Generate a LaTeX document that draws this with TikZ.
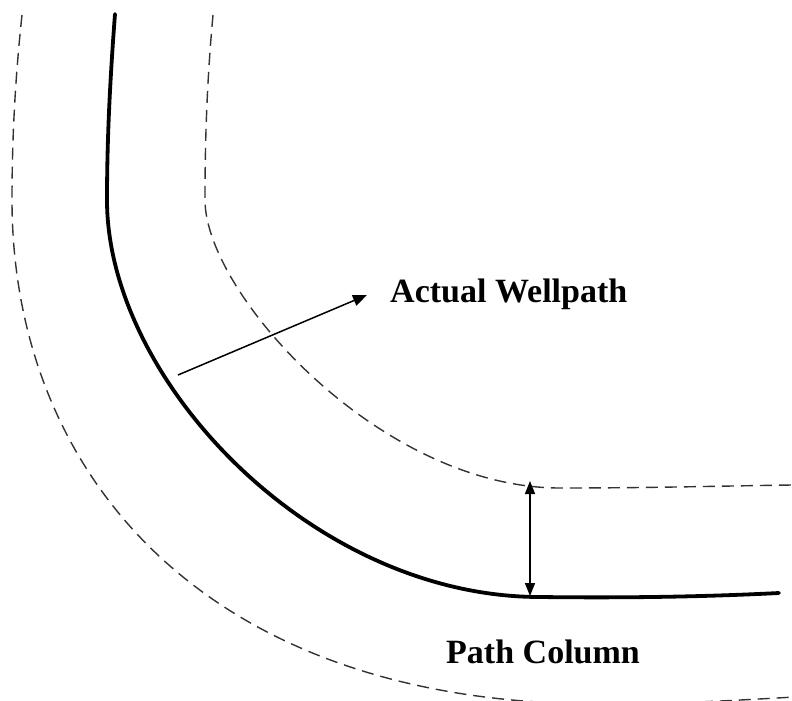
\documentclass[tikz,border=0pt]{standalone}
\usepackage{fontspec}
\setmainfont{Liberation Serif}
\usetikzlibrary{arrows.meta}
\tikzset{
  wellpath/.style={line width=3.8pt, line cap=round, line join=round},
  boundary/.style={line width=1.4pt, dash pattern=on 12pt off 7pt, black!80},
  pointer/.style={line width=1.5pt, -{Triangle[length=14pt,width=11pt]}},
  dimarrow/.style={line width=1.5pt, {Triangle[length=13pt,width=10pt]}-{Triangle[length=13pt,width=10pt]}},
  label/.style={font=\fontsize{34}{40}\selectfont\bfseries, inner sep=0pt, anchor=base west}
}
\begin{document}
\begin{tikzpicture}[x=1pt,y=-1pt]
\useasboundingbox (0,0) rectangle (792,701);
\clip (0,0) rectangle (792,701);
% outer dashed boundary
\draw[boundary] (22,15) .. controls (15,80) and (12,140) .. (12,200)
  .. controls (12,467) and (197,704) .. (600,704)
  .. controls (680,704) and (740,700) .. (795,697);
% inner dashed boundary
\draw[boundary] (213,15) .. controls (207,80) and (205,140) .. (205,200)
  .. controls (205,293) and (380,488) .. (560,488)
  .. controls (650,488) and (720,486) .. (792,485);
% actual wellpath
\draw[wellpath] (115,14) .. controls (110,80) and (107,140) .. (107,200)
  .. controls (107,380) and (312,597) .. (540,597)
  .. controls (620,598) and (700,597) .. (779,593);
% labels
\node[label] (aw) at (390,302) {Actual Wellpath};
\node[label] (pc) at (446,663) {Path Column};
% pointer arrow
\coordinate (ps) at (178,375);
\coordinate (pe) at (367,295);
\draw[pointer] (ps) -- (pe);
% dimension arrow
\coordinate (dt) at (530,481);
\coordinate (db) at (530,596);
\draw[dimarrow] (dt) -- (db);
\end{tikzpicture}
\end{document}
